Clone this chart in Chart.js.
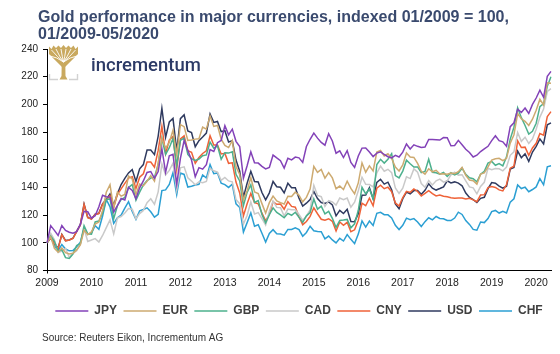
<!DOCTYPE html>
<html>
<head>
<meta charset="utf-8">
<title>Gold performance in major currencies</title>
<script src="https://cdn.jsdelivr.net/npm/chart.js@4.4.0/dist/chart.umd.min.js"></script>
<style>
  html, body { margin: 0; padding: 0; background: #fff; }
  #wrap { width: 560px; height: 354px; }
</style>
</head>
<body>
<div id="wrap"><canvas id="goldChart" width="560" height="354"></canvas></div>
<script>
// Tick labels on the x axis (one per January)
const years = ['2009', '2010', '2011', '2012', '2013', '2014', '2015', '2016', '2017', '2018', '2019', '2020'];
const lastMonth = 5; // data runs to 05/2020

const titleLines = ['Gold performance in major currencies, indexed 01/2009 = 100,', '01/2009-05/2020'];
const sourceText = 'Source: Reuters Eikon, Incrementum AG';

// Gold price indexed 01/2009 = 100, month-end values
const jpy = [
  100, 112.4, 109.0, 105.3, 112.5, 108.9, 107.6, 106.9, 108.1, 113.3, 122.8, 122.4,
  117.8, 119.5, 126.0, 134.3, 133.3, 133.0, 122.3, 126.9, 132.0, 131.0, 140.1, 137.9,
  131.8, 139.7, 144.7, 150.8, 151.5, 146.6, 151.5, 168.0, 150.9, 162.9, 163.9, 142.4,
  161.0, 173.9, 166.7, 159.8, 147.7, 154.3, 153.2, 156.4, 167.3, 166.0, 172.3, 173.9,
  184.6, 178.0, 182.1, 173.3, 169.6, 146.6, 155.7, 165.7, 157.8, 157.6, 155.2, 153.4,
  154.4, 163.4, 161.3, 159.3, 154.0, 161.1, 159.9, 161.9, 161.4, 158.1, 169.6, 174.8,
  179.2, 175.6, 172.5, 170.5, 178.8, 173.6, 164.7, 166.4, 161.6, 166.6, 158.0, 154.4,
  162.7, 168.4, 168.5, 165.6, 162.3, 164.8, 165.7, 163.8, 162.2, 161.4, 163.2, 162.0,
  165.5, 171.4, 167.8, 170.8, 169.7, 168.9, 169.2, 174.6, 174.6, 174.5, 174.2, 176.0,
  175.9, 170.1, 170.3, 174.0, 170.9, 167.6, 165.3, 162.0, 163.3, 165.9, 167.8, 169.7,
  173.8, 177.3, 173.8, 172.9, 169.7, 183.9, 186.7, 196.5, 194.2, 197.4, 193.4, 200.0,
  204.6, 210.2, 205.1, 220.2, 223.8
];
const eur = [
  100, 104.3, 96.0, 93.2, 96.3, 92.9, 92.0, 92.5, 94.9, 98.5, 109.1, 105.9,
  108.0, 113.6, 115.0, 123.4, 136.6, 142.0, 125.1, 136.6, 133.7, 134.9, 148.2, 146.1,
  134.8, 142.4, 141.1, 144.4, 148.5, 144.5, 157.4, 175.3, 168.3, 172.5, 181.4, 163.9,
  185.4, 183.9, 174.0, 174.2, 174.9, 175.2, 183.6, 182.1, 191.6, 184.1, 184.8, 174.8,
  170.4, 168.8, 173.8, 155.0, 149.4, 131.0, 137.6, 147.1, 136.8, 135.5, 128.3, 121.5,
  129.0, 133.8, 130.3, 129.0, 128.0, 133.6, 133.5, 136.6, 134.4, 129.6, 132.8, 138.8,
  155.3, 150.9, 153.0, 146.7, 150.7, 146.9, 139.1, 141.0, 138.5, 144.5, 139.3, 135.4,
  143.3, 157.7, 151.0, 155.6, 152.0, 165.6, 166.7, 162.7, 164.3, 160.9, 154.7, 151.9,
  156.3, 164.9, 162.0, 161.7, 157.4, 151.7, 149.6, 153.5, 151.3, 152.4, 149.7, 149.8,
  149.5, 150.4, 149.9, 151.4, 154.5, 148.8, 145.3, 144.8, 142.4, 149.6, 150.5, 154.8,
  159.7, 160.7, 161.0, 159.4, 161.0, 172.0, 178.1, 193.4, 189.6, 187.8, 184.8, 189.3,
  195.7, 203.7, 199.6, 215.5, 215.2
];
const gbp = [
  100, 104.9, 101.1, 94.1, 95.0, 89.3, 88.7, 91.9, 98.1, 99.4, 112.4, 106.5,
  106.3, 115.1, 115.7, 121.5, 131.3, 131.7, 117.4, 126.8, 131.2, 132.8, 139.9, 142.1,
  130.8, 136.6, 141.8, 145.0, 146.8, 147.4, 156.6, 175.4, 163.8, 168.7, 175.4, 155.8,
  174.1, 175.6, 163.8, 160.8, 159.5, 160.5, 162.9, 163.5, 172.8, 168.4, 170.1, 160.4,
  165.1, 164.8, 165.8, 149.5, 144.7, 126.9, 136.4, 141.9, 129.2, 130.5, 120.5, 114.4,
  120.3, 125.3, 122.0, 120.2, 118.1, 121.3, 119.9, 122.1, 118.4, 114.7, 119.5, 121.9,
  131.7, 124.3, 126.5, 120.9, 122.7, 117.7, 111.1, 116.2, 116.4, 116.9, 110.8, 113.7,
  123.5, 140.1, 135.4, 138.8, 131.8, 156.6, 160.3, 157.6, 160.4, 164.4, 148.6, 146.9,
  151.8, 159.7, 157.1, 154.8, 154.8, 150.7, 151.5, 160.4, 151.0, 150.6, 149.5, 150.8,
  147.9, 150.6, 149.1, 150.4, 153.9, 149.4, 147.0, 146.3, 144.0, 149.6, 151.7, 157.6,
  158.8, 156.0, 157.2, 155.6, 162.1, 174.9, 183.5, 197.5, 190.4, 184.7, 178.5, 180.5,
  186.4, 198.4, 200.5, 213.1, 220.0
];
const cad = [
  100, 106.9, 102.1, 93.0, 94.0, 95.8, 89.6, 92.4, 94.2, 99.3, 110.2, 101.0,
  102.0, 103.0, 100.6, 105.3, 111.0, 116.6, 106.4, 117.9, 119.0, 121.5, 124.8, 124.3,
  117.3, 121.1, 123.4, 129.0, 131.8, 127.8, 136.8, 157.1, 149.0, 152.3, 157.5, 138.1,
  154.2, 154.9, 147.0, 144.6, 141.9, 144.1, 143.4, 144.3, 153.8, 152.0, 151.1, 145.1,
  147.2, 144.7, 144.1, 131.2, 128.3, 113.5, 119.7, 129.5, 120.8, 121.8, 117.5, 112.9,
  122.8, 130.2, 125.6, 125.3, 119.4, 124.4, 123.9, 123.9, 120.5, 116.3, 119.2, 123.7,
  141.6, 134.2, 133.3, 126.3, 130.5, 129.5, 127.3, 132.4, 131.1, 132.3, 125.7, 129.4,
  137.6, 147.4, 142.2, 142.1, 140.4, 150.6, 155.4, 151.7, 153.1, 150.7, 139.6, 135.7,
  139.4, 147.7, 146.4, 153.4, 151.1, 142.8, 140.1, 145.0, 141.8, 144.8, 146.0, 143.8,
  144.8, 149.1, 151.0, 148.9, 149.2, 144.8, 140.4, 139.7, 135.4, 140.7, 143.7, 153.8,
  152.8, 153.6, 153.5, 152.0, 154.7, 163.2, 165.7, 179.7, 173.3, 176.3, 171.7, 175.0,
  182.1, 190.8, 196.6, 209.3, 211.4
];
const cny = [
  100, 103.5, 99.5, 95.8, 105.9, 101.4, 102.0, 103.1, 108.1, 112.9, 127.7, 118.1,
  117.1, 120.5, 121.1, 128.0, 131.1, 134.1, 125.8, 134.9, 139.0, 142.9, 146.8, 147.8,
  139.2, 147.4, 149.9, 158.4, 158.3, 154.6, 166.7, 184.2, 164.3, 174.2, 176.9, 153.1,
  175.0, 177.3, 166.5, 165.4, 157.5, 161.6, 164.5, 166.5, 177.3, 170.6, 170.7, 164.2,
  164.6, 157.4, 157.8, 143.9, 136.0, 119.4, 128.2, 135.7, 129.1, 128.2, 121.4, 115.9,
  120.6, 129.7, 127.8, 128.0, 124.3, 129.8, 126.3, 125.7, 118.8, 113.1, 115.4, 119.1,
  125.3, 121.0, 117.0, 116.4, 117.4, 115.5, 108.5, 115.1, 112.7, 114.8, 108.0, 109.4,
  116.3, 128.6, 126.8, 132.2, 126.8, 139.4, 141.6, 139.1, 140.2, 136.9, 128.8, 126.6,
  132.7, 137.2, 136.4, 138.9, 137.1, 133.9, 135.7, 137.7, 135.6, 133.9, 134.5, 133.6,
  133.2, 132.6, 132.2, 132.4, 132.3, 131.6, 132.2, 131.0, 129.7, 134.6, 134.8, 139.9,
  140.6, 140.0, 138.2, 137.5, 142.1, 153.9, 155.3, 173.7, 168.8, 169.1, 163.2, 168.5,
  171.9, 178.9, 177.8, 191.2, 194.8
];
const usd = [
  100, 103.5, 99.7, 96.1, 106.1, 101.6, 102.1, 103.3, 108.3, 113.1, 127.9, 118.3,
  117.3, 120.7, 121.3, 128.2, 131.3, 135.3, 127.1, 135.5, 142.1, 146.5, 150.5, 152.9,
  144.3, 153.5, 156.5, 167.0, 167.1, 163.7, 177.1, 197.2, 176.2, 187.3, 189.9, 166.5,
  189.7, 192.5, 180.8, 179.6, 169.4, 173.8, 176.4, 179.3, 193.1, 187.0, 187.7, 180.3,
  181.0, 172.8, 173.8, 159.8, 151.7, 133.0, 143.0, 151.7, 144.3, 144.0, 136.3, 131.0,
  136.1, 144.3, 140.5, 140.1, 136.0, 143.0, 139.8, 139.8, 132.3, 126.6, 128.6, 131.2,
  137.1, 132.0, 129.1, 128.4, 129.5, 127.4, 119.5, 123.4, 121.2, 124.2, 115.4, 115.3,
  120.9, 134.3, 134.5, 139.8, 131.8, 143.6, 145.9, 142.4, 143.8, 138.3, 128.1, 124.6,
  131.9, 136.6, 135.4, 137.7, 137.7, 135.1, 137.9, 142.7, 139.5, 138.1, 139.2, 140.4,
  144.8, 143.3, 144.0, 143.1, 141.2, 136.0, 132.8, 131.2, 129.1, 132.1, 132.9, 139.1,
  143.5, 143.1, 140.9, 139.5, 140.9, 153.2, 154.4, 166.2, 161.5, 164.3, 158.8, 165.6,
  169.7, 175.1, 171.5, 185.2, 186.6
];
const chf = [
  100, 104.4, 98.0, 94.4, 98.8, 95.5, 94.2, 94.4, 97.1, 100.4, 110.3, 106.1,
  107.2, 112.4, 109.8, 119.4, 131.3, 126.0, 114.0, 118.0, 120.0, 125.0, 129.7, 122.6,
  116.9, 123.1, 124.1, 125.3, 122.4, 118.5, 120.6, 137.7, 138.2, 142.1, 150.6, 134.9,
  150.4, 149.4, 140.3, 140.9, 141.7, 142.3, 149.0, 146.8, 156.5, 149.9, 150.5, 143.0,
  142.0, 140.0, 142.3, 128.1, 125.5, 107.8, 114.6, 121.6, 112.0, 113.0, 106.9, 100.5,
  106.8, 109.5, 106.6, 106.3, 105.5, 109.7, 109.7, 110.9, 109.5, 104.8, 107.5, 112.0,
  108.7, 108.1, 108.0, 102.9, 104.9, 102.1, 99.9, 103.2, 101.3, 106.0, 102.5, 99.4,
  106.3, 115.8, 111.3, 115.7, 112.5, 121.3, 122.0, 120.3, 120.2, 118.0, 112.6, 109.6,
  112.6, 117.8, 116.7, 117.5, 115.1, 111.8, 115.3, 118.1, 116.6, 119.0, 117.6, 117.4,
  116.1, 116.1, 117.9, 122.1, 120.5, 116.1, 113.3, 109.7, 109.1, 115.0, 114.6, 117.5,
  122.5, 123.4, 121.5, 122.7, 121.5, 129.4, 131.8, 141.8, 139.2, 140.2, 136.9, 138.5,
  140.4, 146.4, 141.9, 154.9, 155.6
];

const seriesNames = ['JPY', 'EUR', 'GBP', 'CAD', 'CNY', 'USD', 'CHF'];
const seriesData = [jpy, eur, gbp, cad, cny, usd, chf];
const seriesColors = ['#8342b8', '#cdaa70', '#4cb08d', '#c9c9c9', '#ef6238', '#2f3a5f', '#2b9fd3'];

// month labels 01/2009 ... 05/2020
const months = [];
years.forEach(function (y, i) {
  const n = (i === years.length - 1) ? lastMonth : 12;
  for (let m = 1; m <= n; m++) {
    months.push((m < 10 ? '0' + m : '' + m) + '/' + y);
  }
});

const fontFamily = '"Liberation Sans", Arial, Helvetica, sans-serif';
Chart.defaults.font.family = fontFamily;

// Draw the logo (tree + wordmark)
function drawLogo(ctx, x, y) {
  ctx.save();
  ctx.translate(x, y);
  ctx.fillStyle = '#c9a95f';
  // crown: a fan with a jagged top edge
  ctx.beginPath();
  ctx.moveTo(13, 22);
  ctx.lineTo(0, 9);
  ctx.lineTo(0, 1.5);
  ctx.lineTo(2.5, 4);
  ctx.lineTo(4.5, 0.5);
  ctx.lineTo(7, 3);
  ctx.lineTo(9.5, 0.5);
  ctx.lineTo(12, 3);
  ctx.lineTo(14.5, 0);
  ctx.lineTo(17, 3);
  ctx.lineTo(19.5, 0.5);
  ctx.lineTo(22, 3);
  ctx.lineTo(24.5, 0.5);
  ctx.lineTo(26.5, 4);
  ctx.lineTo(29, 1.5);
  ctx.lineTo(29, 9);
  ctx.lineTo(16, 22);
  ctx.closePath();
  ctx.fill();
  // trunk
  ctx.beginPath();
  ctx.moveTo(10.5, 34.5);
  ctx.lineTo(18.5, 34.5);
  ctx.lineTo(16.5, 31);
  ctx.lineTo(16.3, 18);
  ctx.lineTo(12.7, 18);
  ctx.lineTo(12.5, 31);
  ctx.closePath();
  ctx.fill();
  // branch separations
  ctx.strokeStyle = '#ffffff';
  ctx.lineWidth = 0.9;
  [[2.5, 5], [7, 4], [12, 4], [17, 4], [22, 4], [26.5, 5], [1, 11], [28, 11]].forEach(function (g) {
    ctx.beginPath();
    ctx.moveTo(g[0], g[1]);
    ctx.quadraticCurveTo((g[0] + 14.5) / 2, 12, 14.5, 17);
    ctx.stroke();
  });
  // grey base bracket
  ctx.strokeStyle = '#d2d2d2';
  ctx.lineWidth = 1.4;
  ctx.beginPath();
  ctx.moveTo(0.5, 29); ctx.lineTo(0.5, 34.5); ctx.lineTo(9, 34.5);
  ctx.moveTo(28.5, 29); ctx.lineTo(28.5, 34.5); ctx.lineTo(20, 34.5);
  ctx.stroke();
  ctx.restore();

  ctx.fillStyle = '#2c3a66';
  ctx.font = '500 18.5px Roboto, ' + fontFamily;
  ctx.textBaseline = 'alphabetic';
  ctx.fillText('incrementum', x + 42, y + 25.5);
}

const decorations = {
  id: 'decorations',
  afterDraw: function (chart) {
    const ctx = chart.ctx;
    ctx.save();
    ctx.textAlign = 'left';
    ctx.textBaseline = 'alphabetic';
    ctx.fillStyle = '#3a4a6e';
    ctx.font = 'bold 16px ' + fontFamily;
    ctx.fillText(titleLines[0], 38, 21.5);
    ctx.fillText(titleLines[1], 38, 38.5);

    ctx.fillStyle = '#333333';
    ctx.font = '10px ' + fontFamily;
    ctx.fillText(sourceText, 42, 341);

    drawLogo(ctx, 49, 45);
    ctx.restore();
  }
};

const datasets = seriesNames.map(function (name, i) {
  return {
    label: name,
    data: seriesData[i],
    borderColor: seriesColors[i],
    backgroundColor: seriesColors[i],
    borderWidth: 1.5,
    pointRadius: 0,
    pointHoverRadius: 0,
    tension: 0,
    fill: false
  };
});

new Chart(document.getElementById('goldChart'), {
  type: 'line',
  data: { labels: months, datasets: datasets },
  options: {
    responsive: false,
    animation: false,
    layout: { padding: { top: 49, left: 0, right: 9, bottom: 27 } },
    plugins: {
      legend: {
        position: 'bottom',
        fullSize: false,
        labels: {
          usePointStyle: true,
          pointStyle: 'line',
          pointStyleWidth: 33,
          boxHeight: 12,
          padding: 6.5,
          color: '#404040',
          font: { size: 12, weight: 'bold' }
        }
      },
      tooltip: { enabled: false }
    },
    scales: {
      x: {
        type: 'category',
        offset: false,
        border: { color: '#000', width: 1 },
        grid: {
          drawOnChartArea: false,
          tickLength: 3,
          tickColor: function (c) { return c.index % 12 === 0 ? '#000' : 'rgba(0,0,0,0)'; }
        },
        ticks: {
          autoSkip: false,
          maxRotation: 0,
          padding: 3,
          color: '#222',
          font: { size: 10.5 },
          callback: function (val, i) { return i % 12 === 0 ? years[i / 12] : null; }
        },
        afterFit: function (s) { s.height = 28; }
      },
      y: {
        min: 80,
        max: 240,
        border: { color: '#000', width: 1 },
        grid: { drawOnChartArea: false, tickLength: 4, tickColor: '#000' },
        ticks: { stepSize: 20, padding: 5, color: '#222', font: { size: 10 } },
        afterFit: function (s) { s.width = 47; }
      }
    }
  },
  plugins: [decorations]
});
</script>
</body>
</html>
